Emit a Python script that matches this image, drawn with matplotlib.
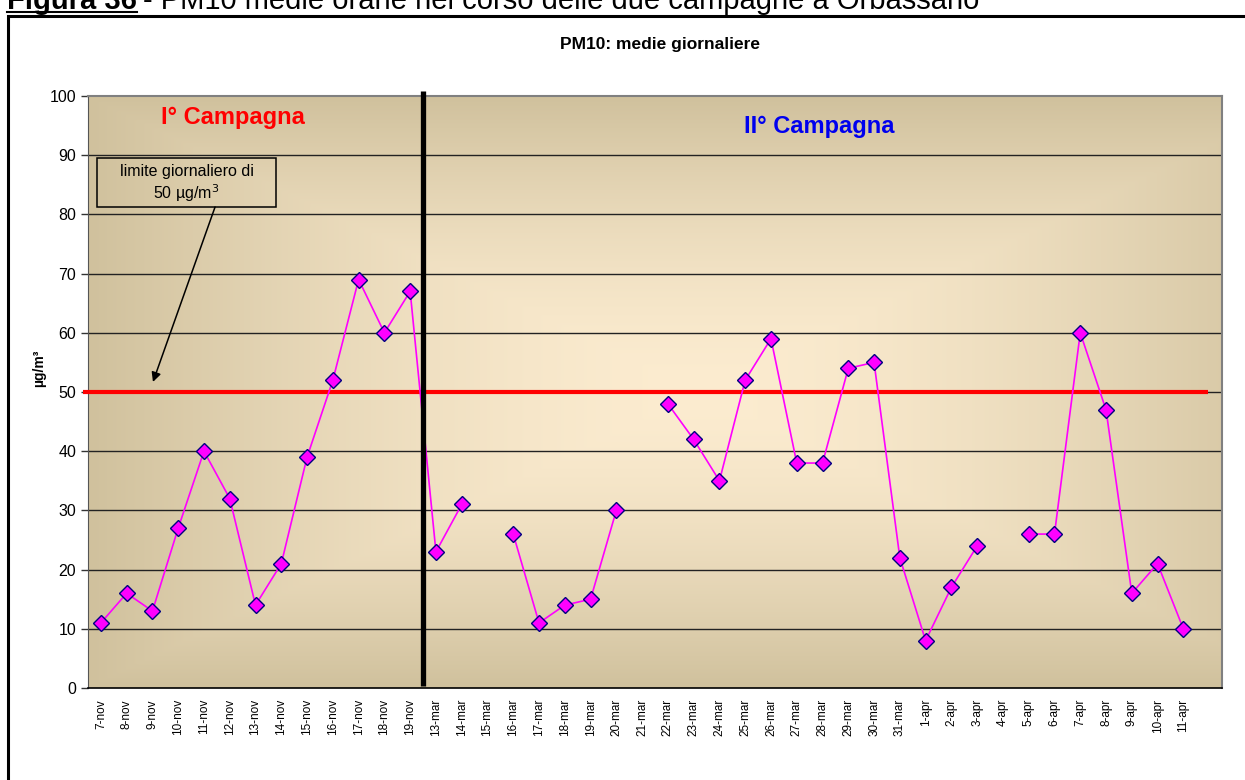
import matplotlib
matplotlib.use("Agg")
import matplotlib.pyplot as plt
import matplotlib.patches as mpatches
import numpy as np

plt.rcParams['font.family'] = ['Liberation Sans', 'DejaVu Sans']

# giorni di campionamento
giorni = ["7-nov", "8-nov", "9-nov", "10-nov", "11-nov", "12-nov", "13-nov", "14-nov",
          "15-nov", "16-nov", "17-nov", "18-nov", "19-nov",
          "13-mar", "14-mar", "15-mar", "16-mar", "17-mar", "18-mar", "19-mar", "20-mar",
          "21-mar", "22-mar", "23-mar", "24-mar", "25-mar", "26-mar", "27-mar", "28-mar",
          "29-mar", "30-mar", "31-mar",
          "1-apr", "2-apr", "3-apr", "4-apr", "5-apr", "6-apr", "7-apr", "8-apr",
          "9-apr", "10-apr", "11-apr"]
# PM10 medie giornaliere (ug/m3), None = dato mancante
pm10 = [11, 16, 13, 27, 40, 32, 14, 21, 39, 52, 69, 60, 67,
        23, 31, None, 26, 11, 14, 15, 30, None, 48, 42, 35, 52, 59, 38, 38, 54, 55, 22,
        8, 17, 24, None, 26, 26, 60, 47, 16, 21, 10]
limite = 50
yticks = list(range(0, 101, 10))

vals = np.array([np.nan if v is None else v for v in pm10], dtype=float)
x = np.arange(len(giorni))

W, H = 1245, 780
fig = plt.figure(figsize=(W / 100, H / 100), dpi=100)
ax = fig.add_axes([88/W, 1-688/H, (1222-88)/W, (688-96)/H])

# sfondo sfumato tipo excel
nx, ny = 300, 200
XX, YY = np.meshgrid(np.linspace(0, 1, nx), np.linspace(0, 1, ny))
t = np.maximum(np.abs(XX - 0.54) / 0.54, np.abs(YY - 0.5) / 0.5)
t = np.clip(t, 0, 1) ** 1.6
c_centro = np.array([252, 236, 208]) / 255
c_bordo = np.array([208, 193, 157]) / 255
img = c_centro[None, None, :] * (1 - t[..., None]) + c_bordo[None, None, :] * t[..., None]
ax.imshow(img, extent=[0, 1, 0, 1], transform=ax.transAxes, aspect='auto', zorder=0, origin='lower')

ax.set_xlim(-0.5, len(giorni) + 0.5)
ax.set_ylim(0, 100)

for yy in yticks[1:-1]:
    ax.axhline(yy, color='#222222', lw=1.0, zorder=1)

ax.plot(x, vals, color='#FF00FF', lw=1.2, marker='D', markersize=8.5,
        markerfacecolor='#FF00FF', markeredgecolor='#000080', markeredgewidth=1.0, zorder=4)

ax.plot([-0.7, 42.97], [limite, limite], color='#FF0000', lw=3, zorder=3, clip_on=False,
        solid_capstyle='butt')
ax.plot([12.5, 12.5], [0.35, 100.85], color='black', lw=3.8, zorder=5, clip_on=False,
        solid_capstyle='butt')

ax.set_xticks(x)
ax.set_xticklabels(giorni, rotation=90, fontsize=8.5)
ax.tick_params(axis='x', length=0, pad=8)
ax.set_yticks(yticks)
ax.tick_params(axis='y', labelsize=11.5, length=5, width=1, direction='out', color='#333333')
ax.set_ylabel("µg/m³", fontsize=10, fontweight='bold')
ax.yaxis.set_label_coords(-0.037, 0.54)

for s in ['top', 'right']:
    ax.spines[s].set_color('#808080')
    ax.spines[s].set_linewidth(1.5)
ax.spines['left'].set_color('#555555')
ax.spines['bottom'].set_color('black')
ax.spines['bottom'].set_linewidth(1.2)

ax.text(5.12, 96.45, "I° Campagna", color='#FF0000', fontsize=17, fontweight='bold',
        ha='center', va='center', zorder=6)
ax.text(27.87, 94.8, "II° Campagna", color='#0000EE', fontsize=17, fontweight='bold',
        ha='center', va='center', zorder=6)

# riquadro con freccia sul limite
ax.add_patch(mpatches.Rectangle((-0.155, 81.25), 6.945, 8.28, fill=False, ec='black', lw=1.1, zorder=6))
ax.text(3.32, 87.3, "limite giornaliero di", fontsize=11.5, ha='center', va='center', zorder=6)
ax.text(3.32, 83.6, "50 µg/m$^3$", fontsize=11.5, ha='center', va='center', zorder=6)
ax.annotate("", xy=(2.02, 51.7), xytext=(4.43, 81.25), zorder=6,
            arrowprops=dict(arrowstyle='-|>', color='black', lw=1.1, mutation_scale=14,
                            shrinkA=0, shrinkB=0))

fig.text(660/W, 1-44/H, "PM10: medie giornaliere", fontsize=12.5, fontweight='bold',
         ha='center', va='center')

# cornice esterna
fig.patches.append(mpatches.Rectangle((8/W, -0.05), 1.1, 1-16/H + 0.05, transform=fig.transFigure,
                                      fill=False, ec='black', lw=2.2))

# didascalia tagliata in alto
fig.text(7/W, 1-9/H, "Figura 36", fontsize=21, fontweight='bold', ha='left', va='baseline')
fig.add_artist(plt.Line2D([7/W, 137/W], [1-11.5/H, 1-11.5/H], color='black', lw=1.5))
fig.text(143/W, 1-9/H, "- PM10 medie orarie nel corso delle due campagne a Orbassano",
         fontsize=21, ha='left', va='baseline')

fig.savefig("out.png", dpi=100)
